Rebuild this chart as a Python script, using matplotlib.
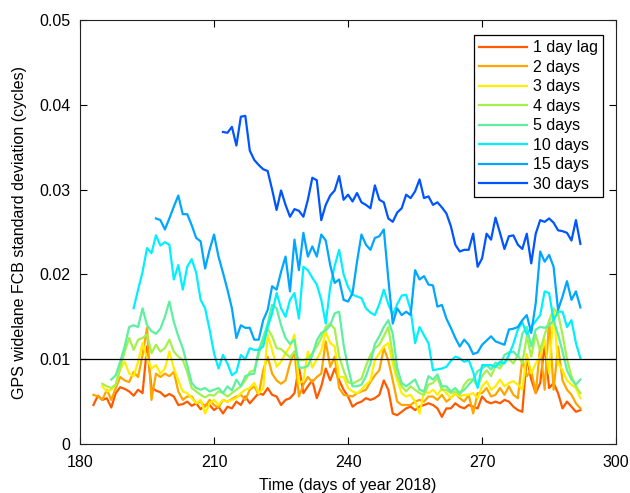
import numpy as np
import matplotlib
matplotlib.use("Agg")
import matplotlib.pyplot as plt

plt.rcParams['font.family'] = ['Liberation Sans', 'DejaVu Sans']

labels = ["1 day lag", "2 days", "3 days", "4 days", "5 days", "10 days", "15 days", "30 days"]
colors = ["#FF5A00", "#FFA500", "#FFEE00", "#A6F04C", "#5CF0A0", "#00F0FF", "#00A6FF", "#0055FF"]
start_days = [183, 183, 185, 185, 187, 192, 197, 212]

lag1 = [0.0046, 0.0057, 0.0052, 0.0054, 0.0043, 0.0060, 0.0067, 0.0065, 0.0062, 0.0057,
        0.0064, 0.0060, 0.0115, 0.0066, 0.0063, 0.0061, 0.0056, 0.0059, 0.0056, 0.0046,
        0.0047, 0.0050, 0.0045, 0.0048, 0.0041, 0.0046, 0.0046, 0.0040, 0.0044, 0.0036,
        0.0044, 0.0042, 0.0050, 0.0046, 0.0056, 0.0048, 0.0054, 0.0060, 0.0058, 0.0066,
        0.0058, 0.0056, 0.0046, 0.0052, 0.0054, 0.0060, 0.0091, 0.0060, 0.0068, 0.0075,
        0.0054, 0.0068, 0.0089, 0.0075, 0.0089, 0.0075, 0.0064, 0.0056, 0.0044, 0.0048,
        0.0050, 0.0054, 0.0052, 0.0054, 0.0058, 0.0075, 0.0064, 0.0036, 0.0034, 0.0038,
        0.0042, 0.0044, 0.0040, 0.0044, 0.0046, 0.0048, 0.0046, 0.0042, 0.0032, 0.0042,
        0.0042, 0.0048, 0.0044, 0.0042, 0.0046, 0.0044, 0.0042, 0.0056, 0.0050, 0.0048,
        0.0050, 0.0048, 0.0052, 0.0050, 0.0044, 0.0040, 0.0038, 0.0103, 0.0076, 0.0060,
        0.0072, 0.0117, 0.0066, 0.0072, 0.0060, 0.0042, 0.0050, 0.0044, 0.0038, 0.0040]

lag2 = [0.0058, 0.0056, 0.0052, 0.0064, 0.0052, 0.0066, 0.0079, 0.0075, 0.0073, 0.0085,
        0.0079, 0.0105, 0.0137, 0.0052, 0.0083, 0.0079, 0.0083, 0.0080, 0.0085, 0.0062,
        0.0052, 0.0056, 0.0056, 0.0048, 0.0050, 0.0044, 0.0052, 0.0046, 0.0043, 0.0052,
        0.0050, 0.0053, 0.0056, 0.0058, 0.0052, 0.0064, 0.0068, 0.0058, 0.0087, 0.0103,
        0.0083, 0.0075, 0.0071, 0.0075, 0.0095, 0.0109, 0.0056, 0.0070, 0.0079, 0.0073,
        0.0079, 0.0083, 0.0121, 0.0091, 0.0103, 0.0066, 0.0058, 0.0057, 0.0056, 0.0060,
        0.0062, 0.0064, 0.0073, 0.0081, 0.0087, 0.0113, 0.0099, 0.0075, 0.0050, 0.0046,
        0.0046, 0.0046, 0.0050, 0.0052, 0.0050, 0.0056, 0.0056, 0.0052, 0.0058, 0.0050,
        0.0054, 0.0060, 0.0054, 0.0050, 0.0058, 0.0036, 0.0060, 0.0060, 0.0066, 0.0056,
        0.0058, 0.0066, 0.0058, 0.0068, 0.0058, 0.0054, 0.0100, 0.0080, 0.0087, 0.0060,
        0.0115, 0.0064, 0.0146, 0.0064, 0.0115, 0.0075, 0.0064, 0.0058, 0.0048, 0.0042]

lag3 = [0.0068, 0.0062, 0.0064, 0.0070, 0.0088, 0.0097, 0.0083, 0.0080, 0.0097, 0.0119,
        0.0101, 0.0089, 0.0093, 0.0083, 0.0089, 0.0109, 0.0089, 0.0075, 0.0062, 0.0060,
        0.0054, 0.0048, 0.0052, 0.0036, 0.0048, 0.0052, 0.0046, 0.0052, 0.0050, 0.0052,
        0.0054, 0.0060, 0.0064, 0.0066, 0.0072, 0.0060, 0.0065, 0.0129, 0.0111, 0.0091,
        0.0097, 0.0107, 0.0115, 0.0129, 0.0071, 0.0075, 0.0109, 0.0090, 0.0100, 0.0110,
        0.0132, 0.0119, 0.0115, 0.0079, 0.0079, 0.0066, 0.0062, 0.0060, 0.0064, 0.0070,
        0.0075, 0.0099, 0.0107, 0.0115, 0.0119, 0.0095, 0.0075, 0.0060, 0.0056, 0.0058,
        0.0050, 0.0036, 0.0062, 0.0060, 0.0064, 0.0058, 0.0066, 0.0060, 0.0054, 0.0060,
        0.0056, 0.0058, 0.0058, 0.0060, 0.0054, 0.0068, 0.0074, 0.0064, 0.0068, 0.0076,
        0.0068, 0.0072, 0.0074, 0.0070, 0.0064, 0.0106, 0.0083, 0.0095, 0.0103, 0.0123,
        0.0083, 0.0158, 0.0095, 0.0087, 0.0075, 0.0070, 0.0066, 0.0054]

lag4 = [0.0071, 0.0068, 0.0066, 0.0070, 0.0090, 0.0109, 0.0125, 0.0111, 0.0123, 0.0125,
        0.0129, 0.0107, 0.0117, 0.0109, 0.0113, 0.0123, 0.0109, 0.0103, 0.0099, 0.0085,
        0.0066, 0.0062, 0.0058, 0.0055, 0.0058, 0.0057, 0.0062, 0.0060, 0.0056, 0.0060,
        0.0064, 0.0068, 0.0075, 0.0085, 0.0087, 0.0105, 0.0125, 0.0136, 0.0127, 0.0113,
        0.0112, 0.0107, 0.0102, 0.0109, 0.0099, 0.0099, 0.0101, 0.0107, 0.0115, 0.0125,
        0.0138, 0.0142, 0.0136, 0.0103, 0.0087, 0.0073, 0.0071, 0.0074, 0.0077, 0.0092,
        0.0105, 0.0113, 0.0117, 0.0127, 0.0138, 0.0105, 0.0080, 0.0068, 0.0062, 0.0068,
        0.0064, 0.0060, 0.0058, 0.0070, 0.0072, 0.0078, 0.0064, 0.0064, 0.0060, 0.0062,
        0.0058, 0.0070, 0.0076, 0.0076, 0.0068, 0.0080, 0.0087, 0.0080, 0.0092, 0.0089,
        0.0097, 0.0100, 0.0095, 0.0105, 0.0095, 0.0127, 0.0103, 0.0129, 0.0110, 0.0129,
        0.0145, 0.0160, 0.0154, 0.0129, 0.0100, 0.0080, 0.0068, 0.0060]

lag5 = [0.0076, 0.0081, 0.0097, 0.0115, 0.0138, 0.0140, 0.0138, 0.0160, 0.0140, 0.0133,
        0.0130, 0.0136, 0.0150, 0.0168, 0.0144, 0.0127, 0.0113, 0.0093, 0.0072, 0.0066,
        0.0064, 0.0066, 0.0062, 0.0064, 0.0066, 0.0060, 0.0068, 0.0063, 0.0076, 0.0068,
        0.0080, 0.0082, 0.0083, 0.0111, 0.0125, 0.0142, 0.0164, 0.0160, 0.0140, 0.0125,
        0.0118, 0.0123, 0.0090, 0.0090, 0.0092, 0.0105, 0.0122, 0.0131, 0.0134, 0.0140,
        0.0154, 0.0156, 0.0117, 0.0090, 0.0068, 0.0068, 0.0070, 0.0080, 0.0095, 0.0118,
        0.0127, 0.0138, 0.0146, 0.0130, 0.0090, 0.0072, 0.0068, 0.0072, 0.0076, 0.0064,
        0.0062, 0.0080, 0.0076, 0.0082, 0.0068, 0.0068, 0.0062, 0.0066, 0.0060, 0.0064,
        0.0070, 0.0076, 0.0086, 0.0089, 0.0093, 0.0088, 0.0096, 0.0093, 0.0105, 0.0108,
        0.0109, 0.0103, 0.0130, 0.0138, 0.0115, 0.0135, 0.0138, 0.0137, 0.0140, 0.0146,
        0.0129, 0.0109, 0.0087, 0.0076, 0.0070, 0.0076]

lag10 = [0.0160, 0.0182, 0.0203, 0.0231, 0.0225, 0.0246, 0.0234, 0.0238, 0.0235, 0.0194,
         0.0211, 0.0182, 0.0209, 0.0218, 0.0202, 0.0170, 0.0160, 0.0135, 0.0107, 0.0089,
         0.0105, 0.0095, 0.0081, 0.0085, 0.0105, 0.0100, 0.0113, 0.0111, 0.0111, 0.0115,
         0.0138, 0.0154, 0.0178, 0.0160, 0.0150, 0.0170, 0.0178, 0.0148, 0.0209, 0.0205,
         0.0196, 0.0188, 0.0170, 0.0142, 0.0185, 0.0210, 0.0229, 0.0200, 0.0185, 0.0176,
         0.0174, 0.0172, 0.0160, 0.0155, 0.0152, 0.0165, 0.0182, 0.0165, 0.0152, 0.0165,
         0.0175, 0.0176, 0.0158, 0.0119, 0.0138, 0.0128, 0.0119, 0.0087, 0.0088, 0.0089,
         0.0091, 0.0098, 0.0103, 0.0101, 0.0097, 0.0099, 0.0085, 0.0066, 0.0093, 0.0093,
         0.0093, 0.0091, 0.0097, 0.0095, 0.0105, 0.0118, 0.0135, 0.0144, 0.0129, 0.0138,
         0.0145, 0.0152, 0.0180, 0.0178, 0.0146, 0.0156, 0.0156, 0.0138, 0.0146, 0.0119,
         0.0101]

lag15 = [0.0266, 0.0264, 0.0253, 0.0266, 0.0280, 0.0293, 0.0271, 0.0271, 0.0258, 0.0243,
         0.0239, 0.0207, 0.0229, 0.0247, 0.0221, 0.0202, 0.0182, 0.0160, 0.0125, 0.0140,
         0.0137, 0.0137, 0.0123, 0.0123, 0.0146, 0.0158, 0.0186, 0.0182, 0.0203, 0.0221,
         0.0180, 0.0241, 0.0205, 0.0249, 0.0221, 0.0233, 0.0221, 0.0247, 0.0240, 0.0211,
         0.0190, 0.0194, 0.0170, 0.0168, 0.0178, 0.0215, 0.0247, 0.0235, 0.0229, 0.0243,
         0.0245, 0.0253, 0.0195, 0.0142, 0.0160, 0.0152, 0.0156, 0.0152, 0.0205, 0.0194,
         0.0198, 0.0188, 0.0187, 0.0162, 0.0164, 0.0148, 0.0137, 0.0125, 0.0115, 0.0123,
         0.0117, 0.0106, 0.0108, 0.0117, 0.0122, 0.0127, 0.0121, 0.0119, 0.0117, 0.0135,
         0.0136, 0.0138, 0.0146, 0.0152, 0.0131, 0.0166, 0.0227, 0.0215, 0.0223, 0.0209,
         0.0158, 0.0174, 0.0192, 0.0170, 0.0180, 0.0161]

lag30 = [0.0368, 0.0367, 0.0374, 0.0352, 0.0386, 0.0387, 0.0346, 0.0335, 0.0329, 0.0324,
         0.0322, 0.0300, 0.0276, 0.0299, 0.0282, 0.0268, 0.0277, 0.0275, 0.0268, 0.0288,
         0.0314, 0.0311, 0.0264, 0.0282, 0.0293, 0.0299, 0.0316, 0.0288, 0.0294, 0.0286,
         0.0296, 0.0285, 0.0282, 0.0278, 0.0305, 0.0288, 0.0285, 0.0266, 0.0262, 0.0273,
         0.0278, 0.0294, 0.0290, 0.0298, 0.0312, 0.0290, 0.0292, 0.0282, 0.0285, 0.0279,
         0.0272, 0.0257, 0.0235, 0.0227, 0.0229, 0.0229, 0.0248, 0.0209, 0.0219, 0.0248,
         0.0241, 0.0267, 0.0249, 0.0230, 0.0245, 0.0246, 0.0235, 0.0230, 0.0248, 0.0213,
         0.0248, 0.0264, 0.0262, 0.0266, 0.0261, 0.0252, 0.0251, 0.0249, 0.0240, 0.0264,
         0.0236]

series = [lag1, lag2, lag3, lag4, lag5, lag10, lag15, lag30]

xticks = [180, 210, 240, 270, 300]
yticks = [0, 0.01, 0.02, 0.03, 0.04, 0.05]
ytick_labels = ["0", "0.01", "0.02", "0.03", "0.04", "0.05"]

fig = plt.figure(figsize=(6.30, 4.93), dpi=100)
ax = fig.add_axes([0.127, 0.0994, 0.851, 0.860])

for vals, start, col, lab in zip(series, start_days, colors, labels):
    days = np.arange(start, start + len(vals))
    ax.plot(days, vals, color=col, lw=1.6, label=lab)

ax.axhline(0.01, color='black', lw=0.9)

ax.set_xlim(180, 300)
ax.set_ylim(0, 0.05)
ax.set_xticks(xticks)
ax.set_yticks(yticks)
ax.set_yticklabels(ytick_labels)
ax.tick_params(direction='in', top=True, right=True, labelsize=11.5, length=5, width=0.8)
ax.tick_params(axis='x', pad=8)
ax.tick_params(axis='y', pad=7)
for s in ax.spines.values():
    s.set_linewidth(0.8)
    s.set_color('#222222')
ax.set_xlabel("Time (days of year 2018)", fontsize=11.5, labelpad=6)
ax.set_ylabel("GPS widelane FCB standard deviation (cycles)", fontsize=11.5, labelpad=9)

leg = ax.legend(loc='upper right', bbox_to_anchor=(0.976, 0.965), fontsize=11.5,
                frameon=True, fancybox=False, edgecolor='black', framealpha=1,
                handlelength=3.0, handletextpad=0.35, labelspacing=0.28,
                borderpad=0.35, borderaxespad=0.0)
leg.get_frame().set_linewidth(0.9)

fig.savefig("out.png", dpi=100)
